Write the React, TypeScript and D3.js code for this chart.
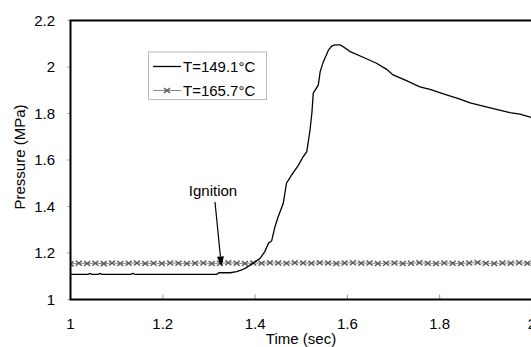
import React from "react";
import * as d3 from "d3";

const xTicks = [1, 1.2, 1.4, 1.6, 1.8, 2];
const yTicks = [1, 1.2, 1.4, 1.6, 1.8, 2, 2.2];
const xTickLabels = ["1", "1.2", "1.4", "1.6", "1.8", "2"];
const yTickLabels = ["1", "1.2", "1.4", "1.6", "1.8", "2", "2.2"];

const s1Time = [1.0, 1.038, 1.042, 1.046, 1.06, 1.064, 1.068, 1.074, 1.13, 1.135, 1.14, 1.2, 1.25, 1.3, 1.317, 1.322, 1.346, 1.36, 1.371, 1.38, 1.389, 1.4, 1.411, 1.421, 1.429, 1.436, 1.443, 1.45, 1.461, 1.468, 1.479, 1.494, 1.504, 1.512, 1.519, 1.523, 1.526, 1.537, 1.541, 1.548, 1.559, 1.566, 1.573, 1.584, 1.591, 1.606, 1.634, 1.663, 1.685, 1.699, 1.728, 1.757, 1.779, 1.808, 1.844, 1.866, 1.894, 1.923, 1.952, 1.974, 1.996, 2.0];
const s1Pressure = [1.108, 1.108, 1.112, 1.108, 1.108, 1.112, 1.108, 1.108, 1.108, 1.112, 1.108, 1.108, 1.108, 1.108, 1.108, 1.115, 1.115, 1.12, 1.127, 1.136, 1.148, 1.162, 1.177, 1.206, 1.242, 1.253, 1.313, 1.356, 1.414, 1.5, 1.535, 1.578, 1.614, 1.636, 1.729, 1.801, 1.887, 1.923, 1.98, 2.023, 2.073, 2.09, 2.095, 2.095, 2.087, 2.066, 2.042, 2.016, 1.99, 1.966, 1.941, 1.915, 1.904, 1.884, 1.862, 1.846, 1.832, 1.818, 1.804, 1.797, 1.784, 1.782];

const s2Time = [1.0, 1.018, 1.036, 1.054, 1.072, 1.09, 1.108, 1.126, 1.144, 1.162, 1.18, 1.198, 1.216, 1.234, 1.252, 1.27, 1.288, 1.306, 1.324, 1.342, 1.36, 1.378, 1.396, 1.414, 1.432, 1.45, 1.468, 1.486, 1.504, 1.522, 1.54, 1.558, 1.576, 1.594, 1.612, 1.63, 1.648, 1.666, 1.684, 1.702, 1.72, 1.738, 1.756, 1.774, 1.792, 1.81, 1.828, 1.846, 1.864, 1.882, 1.9, 1.918, 1.936, 1.954, 1.972, 1.99, 2.008];
const s2Pressure = [1.153, 1.156, 1.155, 1.156, 1.154, 1.157, 1.155, 1.156, 1.157, 1.155, 1.156, 1.155, 1.157, 1.156, 1.155, 1.156, 1.157, 1.155, 1.156, 1.158, 1.156, 1.155, 1.157, 1.156, 1.158, 1.157, 1.156, 1.158, 1.157, 1.156, 1.158, 1.157, 1.155, 1.157, 1.158, 1.156, 1.157, 1.155, 1.156, 1.157, 1.155, 1.156, 1.158, 1.156, 1.155, 1.157, 1.156, 1.155, 1.157, 1.159, 1.156, 1.155, 1.157, 1.156, 1.158, 1.156, 1.155];

const seriesNames = ["T=149.1°C", "T=165.7°C"];

const W = 531, H = 347;
const L = 70.5, R = 532, T = 20.5, B = 299.5;
const FONT = "Liberation Sans, Arial, sans-serif";
const FS = 15;

export default function App() {
  const x = d3.scaleLinear().domain([1, 2]).range([L, R]);
  const y = d3.scaleLinear().domain([1, 2.2]).range([B, T]);
  const line = d3.line<[number, number]>().x(d => x(d[0])).y(d => y(d[1]));
  const s1 = s1Time.map((t, i) => [t, s1Pressure[i]] as [number, number]);
  const s2 = s2Time.map((t, i) => [t, s2Pressure[i]] as [number, number]);
  const cross = (cx: number, cy: number, k: string) => (
    <path key={k} d={`M${cx - 3},${cy - 2.5}L${cx + 3},${cy + 2.5}M${cx - 3},${cy + 2.5}L${cx + 3},${cy - 2.5}`} stroke="#5a5a5a" strokeWidth={1.5} fill="none" />
  );
  const ax = x(1.327), ay = y(1.155) + 3;
  const sx = 215, sy = 202;
  const ang = Math.atan2(ay - sy, ax - sx);
  const hl = 10, hw = 3.5;
  const bx = ax - hl * Math.cos(ang), by = ay - hl * Math.sin(ang);
  const px = -Math.sin(ang), py = Math.cos(ang);
  return (
    <svg width={W} height={H} style={{ position: "absolute", left: 0, top: 0 }} fontFamily={FONT}>
      <rect width={W} height={H} fill="#fff" />
      <defs>
        <clipPath id="plot"><rect x={L} y={T} width={R - L} height={B - T} /></clipPath>
      </defs>
      {xTicks.map((t, i) => (
        <g key={"xt" + i}>
          <line x1={x(t)} x2={x(t)} y1={B} y2={B - 5} stroke="#999" strokeWidth={1} />
          <text x={x(t)} y={328.5} textAnchor="middle" fontSize={FS} fill="#000">{xTickLabels[i]}</text>
        </g>
      ))}
      {yTicks.map((t, i) => (
        <g key={"yt" + i}>
          <line x1={L - 3} x2={L} y1={y(t)} y2={y(t)} stroke="#999" strokeWidth={1} />
          <text x={55} y={y(t) + 5.3} textAnchor="end" fontSize={FS} fill="#000">{yTickLabels[i]}</text>
        </g>
      ))}
      <g clipPath="url(#plot)">
        <path d={line(s2) || ""} fill="none" stroke="#888" strokeWidth={1} />
        {s2.map((d, i) => cross(x(d[0]), y(d[1]), "m" + i))}
        <path d={line(s1) || ""} fill="none" stroke="#000" strokeWidth={1.3} />
      </g>
      <path d={`M${L},${T}H${R}V${B}H${L}Z`} fill="none" stroke="#000" strokeWidth={2} />
      <text x={301} y={344} textAnchor="middle" fontSize={FS}>Time (sec)</text>
      <text transform={`translate(25,157) rotate(-90)`} textAnchor="middle" fontSize={FS}>Pressure (MPa)</text>
      <rect x={148.5} y={52} width={118} height={47.5} fill="#fff" stroke="#bbb" strokeWidth={1} />
      <line x1={153} x2={181} y1={66.5} y2={66.5} stroke="#000" strokeWidth={1.3} />
      <text x={183} y={71.8} fontSize={FS}>{seriesNames[0]}</text>
      <line x1={153} x2={181} y1={90.5} y2={90.5} stroke="#888" strokeWidth={1} />
      {cross(167, 90.5, "lg")}
      <text x={183} y={95.8} fontSize={FS}>{seriesNames[1]}</text>
      <text x={213} y={196} textAnchor="middle" fontSize={FS}>Ignition</text>
      <line x1={sx} y1={sy} x2={bx} y2={by} stroke="#000" strokeWidth={1.2} />
      <path d={`M${ax},${ay}L${bx + px * hw},${by + py * hw}L${bx - px * hw},${by - py * hw}Z`} fill="#000" />
    </svg>
  );
}
